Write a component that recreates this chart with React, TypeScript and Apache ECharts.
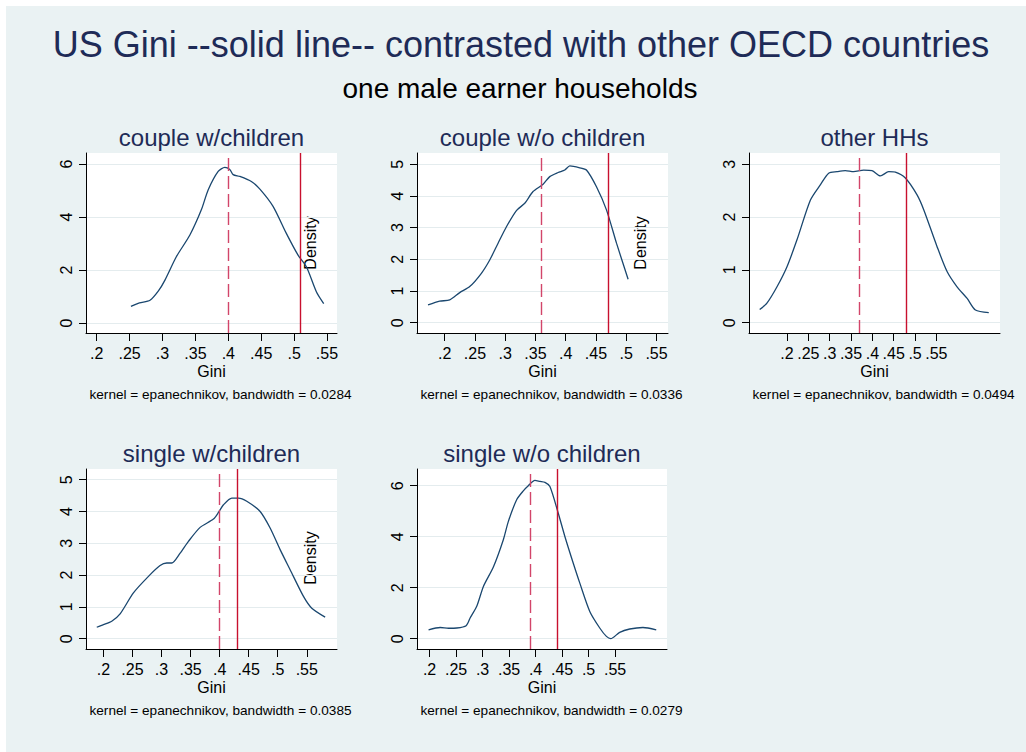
import React, { useEffect, useRef } from "react";
import * as echarts from "echarts";

// ---- Data ----
const mainTitle = "US Gini --solid line-- contrasted with other OECD countries";
const subTitle = "one male earner households";
const panelTitles = ["couple w/children", "couple w/o children", "other HHs", "single w/children", "single w/o children"];
const bandwidths = ["0.0284", "0.0336", "0.0494", "0.0385", "0.0279"];

const xTickValues = [0.2, 0.25, 0.3, 0.35, 0.4, 0.45, 0.5, 0.55];
const xTickLabels = [".2", ".25", ".3", ".35", ".4", ".45", ".5", ".55"];

const yTicks1 = [0, 2, 4, 6];
const yTicks2 = [0, 1, 2, 3, 4, 5];
const yTicks3 = [0, 1, 2, 3];
const yTicks4 = [0, 1, 2, 3, 4, 5];
const yTicks5 = [0, 2, 4, 6];

// couple w/children
const gini1 = [0.252, 0.265, 0.281, 0.2935, 0.3037, 0.321, 0.3416, 0.359, 0.3695, 0.3846, 0.3947, 0.4023, 0.4074, 0.4175, 0.435, 0.448, 0.468, 0.488, 0.506, 0.5187, 0.534, 0.545];
const dens1 = [0.63, 0.76, 0.86, 1.2, 1.62, 2.5, 3.32, 4.27, 5.03, 5.72, 5.87, 5.79, 5.6, 5.53, 5.34, 5.05, 4.4, 3.39, 2.56, 2.12, 1.17, 0.73];
// couple w/o children
const gini2 = [0.1724, 0.1917, 0.2083, 0.2248, 0.2413, 0.2606, 0.2744, 0.2882, 0.302, 0.3185, 0.3323, 0.346, 0.3626, 0.3736, 0.3874, 0.3984, 0.4067, 0.4232, 0.4342, 0.4508, 0.4673, 0.4839, 0.5031];
const dens2 = [0.56, 0.68, 0.72, 0.95, 1.14, 1.56, 1.98, 2.51, 3.03, 3.54, 3.77, 4.14, 4.37, 4.61, 4.74, 4.82, 4.95, 4.89, 4.82, 4.29, 3.56, 2.51, 1.37];
// other HHs
const gini3 = [0.136, 0.153, 0.1766, 0.2, 0.2234, 0.2547, 0.278, 0.2977, 0.317, 0.3367, 0.356, 0.3797, 0.3992, 0.4188, 0.4383, 0.4539, 0.4773, 0.5047, 0.5203, 0.5516, 0.575, 0.5984, 0.622, 0.6414, 0.6727];
const dens3 = [0.25, 0.37, 0.68, 1.06, 1.57, 2.32, 2.61, 2.83, 2.86, 2.88, 2.86, 2.89, 2.88, 2.78, 2.86, 2.85, 2.74, 2.42, 2.14, 1.44, 0.97, 0.68, 0.46, 0.24, 0.19];
// single w/children
const gini4 = [0.1885, 0.2, 0.2143, 0.2287, 0.2516, 0.2775, 0.2975, 0.309, 0.3176, 0.332, 0.3463, 0.3664, 0.3893, 0.398, 0.4066, 0.4209, 0.4324, 0.4467, 0.4697, 0.4869, 0.5041, 0.5213, 0.5443, 0.5586, 0.5816];
const dens4 = [0.36, 0.44, 0.55, 0.78, 1.44, 1.96, 2.3, 2.38, 2.38, 2.69, 3.06, 3.5, 3.76, 3.97, 4.21, 4.42, 4.42, 4.32, 4.0, 3.48, 2.8, 2.17, 1.33, 0.96, 0.68];
// single w/o children
const gini5 = [0.1981, 0.22, 0.2358, 0.2514, 0.269, 0.2765, 0.289, 0.3016, 0.3204, 0.3392, 0.3487, 0.3643, 0.3769, 0.3863, 0.3988, 0.4082, 0.4177, 0.4271, 0.4427, 0.4553, 0.471, 0.4835, 0.5023, 0.5211, 0.5337, 0.5418, 0.5587, 0.5776, 0.6027, 0.6277];
const dens5 = [0.35, 0.44, 0.41, 0.42, 0.51, 0.81, 1.27, 2.05, 2.81, 3.88, 4.6, 5.45, 5.8, 6.0, 6.21, 6.17, 6.13, 5.97, 4.93, 4.01, 2.97, 2.18, 1.07, 0.42, 0.09, 0.0, 0.25, 0.38, 0.44, 0.35];

// reference lines: dashed = other OECD, solid = US
const oecdGini = [0.4023, 0.3626, 0.3719, 0.3997, 0.385];
const usGini = [0.5065, 0.47, 0.4813, 0.4341, 0.4415];

const ginis = [gini1, gini2, gini3, gini4, gini5];
const densities = [dens1, dens2, dens3, dens4, dens5];
const yTicks = [yTicks1, yTicks2, yTicks3, yTicks4, yTicks5];

// ---- Layout ----
const grids = [
  { left: 86, top: 153, width: 251, height: 180 },
  { left: 417, top: 153, width: 251, height: 180 },
  { left: 749, top: 153, width: 251, height: 180 },
  { left: 86, top: 469, width: 251, height: 180 },
  { left: 417, top: 469, width: 250, height: 180 },
];
const xRanges = [
  [0.1837, 0.5652],
  [0.1542, 0.569],
  [0.111, 0.699],
  [0.17, 0.602],
  [0.1763, 0.648],
];
const yRanges = [
  [-0.377, 6.415],
  [-0.325, 5.356],
  [-0.195, 3.214],
  [-0.324, 5.336],
  [-0.404, 6.655],
];
const densityLabelPos = [
  { x: 310, y: 243 },
  { x: 640, y: 243 },
  null,
  { x: 310, y: 558 },
  null,
];

const FONT = "'Liberation Sans', Arial, Helvetica, sans-serif";
const NAVY = "#1e2b57";
const LINE = "#1a476f";
const BG = "#eaf2f3";

export default function App() {
  const ref = useRef<HTMLDivElement>(null);

  useEffect(() => {
    if (!ref.current) return;
    const chart = echarts.init(ref.current, undefined, { renderer: "svg" });

    const graphics: any[] = [
      { type: "rect", z: -10, shape: { x: 6, y: 6, width: 1020, height: 746 }, style: { fill: BG }, silent: true },
      {
        type: "text", x: 521, y: 44,
        style: { text: mainTitle, fill: NAVY, font: `36px ${FONT}`, align: "center", verticalAlign: "middle" },
      },
      {
        type: "text", x: 520, y: 88,
        style: { text: subTitle, fill: "#000", font: `28px ${FONT}`, align: "center", verticalAlign: "middle" },
      },
    ];

    grids.forEach((g, i) => {
      const cx = g.left + g.width / 2;
      graphics.push({
        type: "rect", z: -5, silent: true,
        shape: { x: g.left, y: g.top, width: g.width, height: g.height },
        style: { fill: "#ffffff" },
      });
      graphics.push({
        type: "text", x: cx, y: g.top - 16,
        style: { text: panelTitles[i], fill: NAVY, font: `24px ${FONT}`, align: "center", verticalAlign: "middle" },
      });
      graphics.push({
        type: "text", x: cx, y: g.top + g.height + 38.5,
        style: { text: "Gini", fill: "#000", font: `16px ${FONT}`, align: "center", verticalAlign: "middle" },
      });
      graphics.push({
        type: "text", x: g.left + 3.5, y: g.top + g.height + 61,
        style: { text: `kernel = epanechnikov, bandwidth = ${bandwidths[i]}`, fill: "#000", font: `13.6px ${FONT}`, align: "left", verticalAlign: "middle" },
      });
      const dp = densityLabelPos[i];
      if (dp) {
        graphics.push({
          type: "text", x: dp.x, y: dp.y, rotation: Math.PI / 2,
          style: { text: "Density", fill: "#000", font: `16px ${FONT}`, align: "center", verticalAlign: "middle" },
        });
      }
    });

    const option: any = {
      animation: false,
      backgroundColor: "#ffffff",
      textStyle: { fontFamily: FONT },
      graphic: graphics,
      grid: grids.map((g) => ({ ...g, containLabel: false })),
      xAxis: grids.map((_, i) => ({
        type: "value",
        gridIndex: i,
        min: xRanges[i][0],
        max: xRanges[i][1],
        axisLine: { show: true, onZero: false, lineStyle: { color: "#000", width: 1 } },
        axisTick: { show: true, length: 8, lineStyle: { color: "#000" }, customValues: xTickValues },
        axisLabel: {
          show: true, color: "#000", fontSize: 16, fontFamily: FONT, margin: 12,
          customValues: xTickValues,
          formatter: (v: number) => {
            const idx = xTickValues.findIndex((t) => Math.abs(t - v) < 1e-6);
            return idx >= 0 ? xTickLabels[idx] : "";
          },
        },
        splitLine: { show: false },
      })),
      yAxis: grids.map((_, i) => ({
        type: "value",
        gridIndex: i,
        min: yRanges[i][0],
        max: yRanges[i][1],
        axisLine: { show: true, onZero: false, lineStyle: { color: "#000", width: 1 } },
        axisTick: { show: true, length: 7, lineStyle: { color: "#000" }, customValues: yTicks[i] },
        axisLabel: {
          show: true, color: "#000", fontSize: 16, fontFamily: FONT, margin: 12, rotate: 90,
          customValues: yTicks[i],
          formatter: (v: number) => String(v),
        },
        splitLine: { show: true, lineStyle: { color: "#e4ecee", width: 1 } },
      })),
      series: grids.map((_, i) => ({
        type: "line",
        xAxisIndex: i,
        yAxisIndex: i,
        data: ginis[i].map((x, k) => [x, densities[i][k]]),
        showSymbol: false,
        symbol: "none",
        smooth: 0.25,
        lineStyle: { color: LINE, width: 1.3 },
        z: 3,
        markLine: {
          silent: true,
          symbol: "none",
          label: { show: false },
          emphasis: { disabled: true },
          data: [
            { xAxis: oecdGini[i], lineStyle: { color: "#d2456a", type: [13, 5], width: 1.4 } },
            { xAxis: usGini[i], lineStyle: { color: "#c8102e", type: "solid", width: 1.4 } },
          ],
        },
      })),
    };

    chart.setOption(option);
    return () => chart.dispose();
  }, []);

  return (
    <div
      ref={ref}
      style={{ position: "absolute", left: 0, top: 0, width: 1026, height: 752 }}
    />
  );
}
